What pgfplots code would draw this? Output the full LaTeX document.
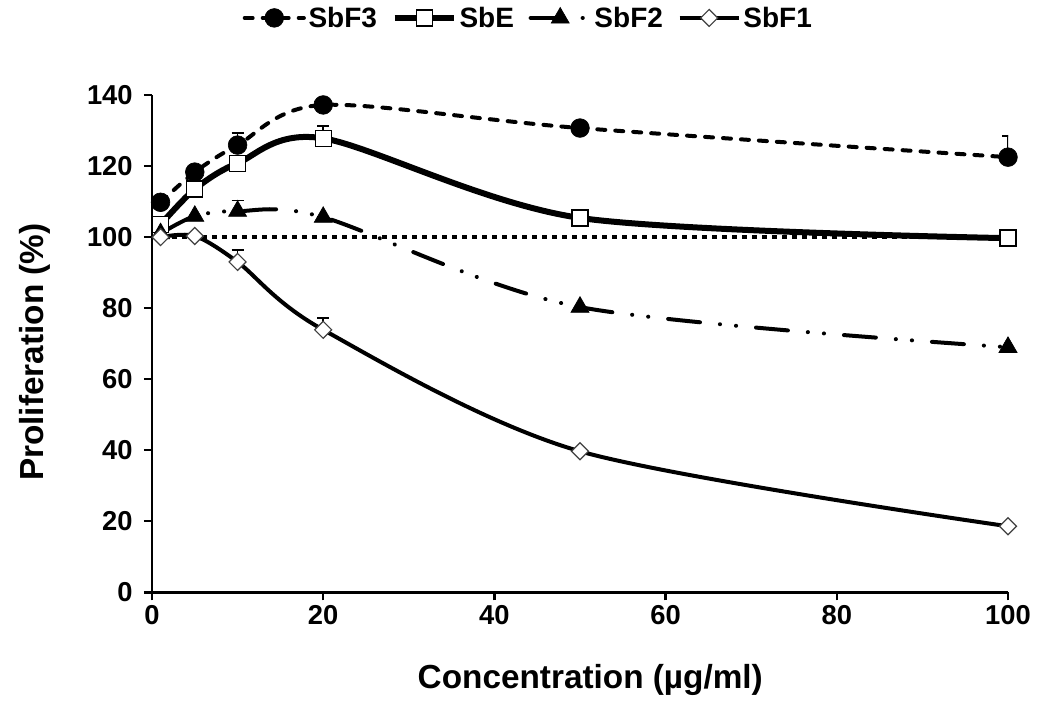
\documentclass[border=0pt]{standalone}
\usepackage{pgfplots}
\pgfplotsset{compat=1.18}
\usepackage{fontspec}
\setmainfont{Liberation Sans}
\begin{document}
\begin{tikzpicture}
\useasboundingbox (-114pt,-84pt) rectangle (673.5pt,444.25pt);
\begin{axis}[
  scale only axis,
  width=642pt, height=373pt,
  xmin=0, xmax=100, ymin=0, ymax=140,
  xtick={0,20,...,100}, ytick={0,20,...,140},
  axis lines=left,
  axis line style={-, line width=2.2pt},
  tick style={line width=1.8pt, black},
  tick align=outside,
  major tick length=6pt,
  /pgf/number format/assume math mode=true,
  ticklabel style={font=\bfseries\fontsize{20.5}{22}\selectfont},
  yticklabel style={xshift=-5pt},
  xlabel={Concentration (µg/ml)},
  ylabel={Proliferation (\%)},
  label style={font=\bfseries\fontsize{25}{27}\selectfont},
  xlabel style={at={(axis description cs:0.512,-0.177)}, anchor=center},
  ylabel style={at={(axis description cs:-0.137,0.483)}, anchor=center, rotate=0},
  legend columns=4,
  legend style={at={(axis description cs:0.44,1.155)}, anchor=center, draw=none,
    font=\bfseries\fontsize{21}{23}\selectfont,
    /tikz/every even column/.append style={column sep=9pt}},
  legend image code/.code={\draw[mark repeat=2, mark phase=2] plot coordinates {(0cm,0cm) (0.78cm,0cm) (1.56cm,0cm)};},
  error bars/y dir=plus, error bars/y explicit,
  error bars/error bar style={line width=1.3pt, solid},
  error bars/error mark options={rotate=90, mark size=4.5pt, line width=1.3pt, solid},
]
% reference line at 100 %
\addplot[forget plot, black, line width=3.5pt, dash pattern=on 3.75pt off 3.75pt] coordinates {(0,100) (100,100)};

\addplot[black, line width=3pt, smooth, line cap=round, dash pattern=on 6pt off 7.5pt,
  mark=*, mark size=7pt, mark options={solid, fill=black, line width=0.5pt}]
  coordinates {(1,109.8) +- (0,0) (5,118.3) +- (0,0) (10,125.9) +- (0,3.4) (20,137.2) +- (0,0.8) (50,130.7) +- (0,0) (100,122.5) +- (0,6)};
\addlegendentry{SbF3}

\addplot[black, line width=4.5pt, smooth,
  mark=square*, mark size=6pt, mark options={solid, fill=white, draw=black, line width=1pt}]
  coordinates {(1,103.5) +- (0,0) (5,113.5) +- (0,0) (10,120.8) +- (0,0) (20,127.8) +- (0,3.4) (50,105.4) +- (0,0) (100,99.7) +- (0,0)};
\addlegendentry{SbE}

\addplot[black, line width=3pt, smooth, line cap=round,
  dash pattern=on 24pt off 15pt on 0.1pt off 12pt on 0.1pt off 15pt,
  mark=triangle*, mark size=7.8pt, mark options={solid, fill=black, line width=0.5pt}]
  coordinates {(1,101) +- (0,0) (5,105.9) +- (0,0) (10,107.3) +- (0,3) (20,105.6) +- (0,0) (50,80.3) +- (0,0) (100,69) +- (0,0)};
\addlegendentry{SbF2}

\addplot[black, line width=3pt, smooth,
  mark=square*, mark size=4.5pt, mark options={solid, rotate=45, fill=white, draw=black!75, line width=0.9pt}]
  coordinates {(1,100) +- (0,0) (5,100.3) +- (0,0) (10,93) +- (0,3.3) (20,73.9) +- (0,3.4) (50,39.7) +- (0,0) (100,18.6) +- (0,0)};
\addlegendentry{SbF1}
\end{axis}
\end{tikzpicture}
\end{document}
